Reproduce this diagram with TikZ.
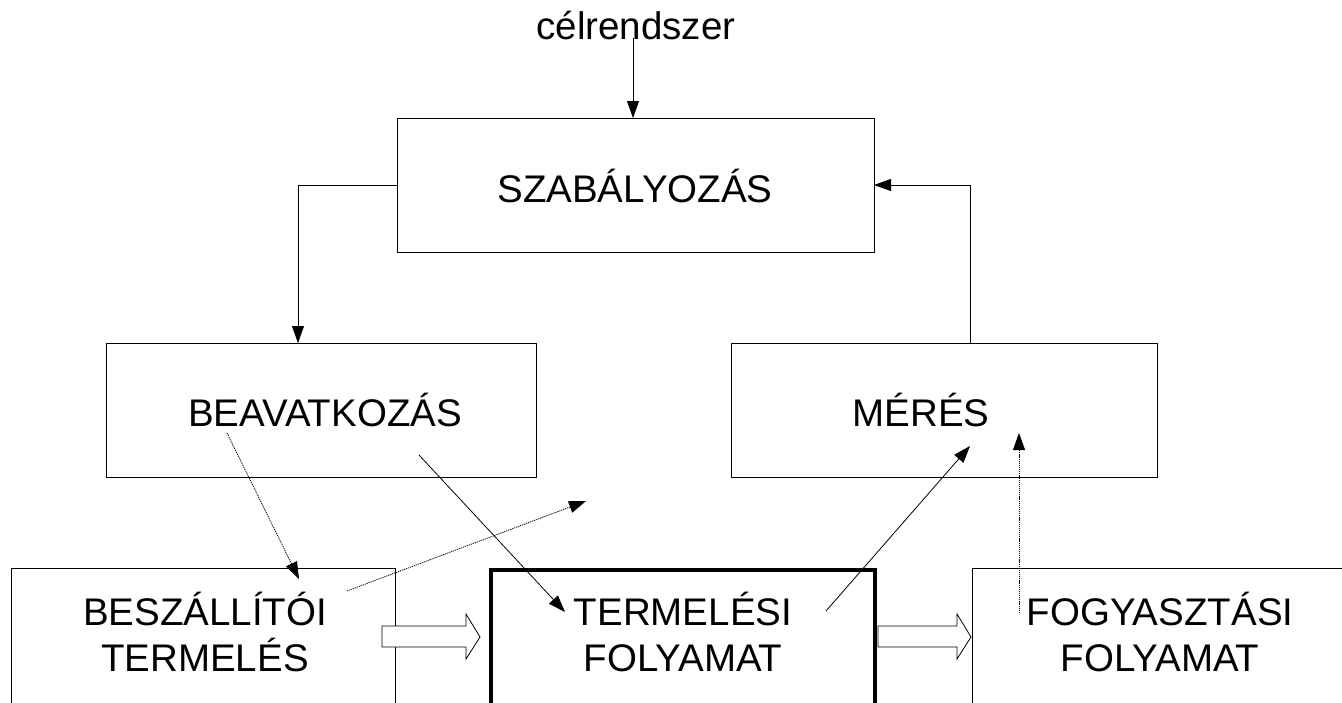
\documentclass[tikz,border=0pt]{standalone}
\usepackage{fontspec}
\setmainfont{Liberation Sans}
\usetikzlibrary{arrows.meta,calc}
\begin{document}
\begin{tikzpicture}[x=1pt,y=-1pt,
  box/.style={draw,line width=0.9pt,inner sep=0pt,outer sep=0pt},
  thickbox/.style={box,line width=3.6pt},
  lbl/.style={font=\fontsize{38.5}{46}\selectfont,align=center,inner sep=0pt},
  arr/.style={-{Triangle[length=17pt,width=12pt]},line width=0.8pt},
  dotarr/.style={arr,dash pattern=on 1.2pt off 0.9pt},
  hollow/.style={draw,fill=white,line width=0.8pt,line join=miter}]
\useasboundingbox (0,0) rectangle (1342,702);
\clip (0,0) rectangle (1342,702);
% boxes
\node[box,minimum width=477pt,minimum height=134pt] (szab) at (635.5,185) {};
\node[box,minimum width=430pt,minimum height=134pt] (beav) at (321,410) {};
\node[box,minimum width=426pt,minimum height=134pt] (meres) at (944,410) {};
\node[box,minimum width=384pt,minimum height=192pt] (besz) at (203,664) {};
\node[thickbox,minimum width=384pt,minimum height=190pt] (term) at (683,665) {};
\node[box,minimum width=428pt,minimum height=192pt] (fogy) at (1186,664) {};
% texts
\node[lbl] (tcel) at (636,26) {célrendszer};
\node[lbl] (tszab) at (635,186) {SZABÁLYOZÁS};
\node[lbl] (tbeav) at (325,410) {BEAVATKOZÁS};
\node[lbl] (tmeres) at (921,410) {MÉRÉS};
\node[lbl] (tbesz) at (205,632) {BESZÁLLÍTÓI\\TERMELÉS};
\node[lbl] (tterm) at (683,632) {TERMELÉSI\\FOLYAMAT};
\node[lbl] (tfogy) at (1160,632) {FOGYASZTÁSI\\FOLYAMAT};
% hollow arrows
\draw[hollow] (382,626) -- (466,626) -- (466,614) -- (480,637) -- (466,659) -- (466,647) -- (382,647) -- cycle;
\draw[hollow] (878,626) -- (957,626) -- (957,614) -- (971,637) -- (957,659) -- (957,647) -- (878,647) -- cycle;
% connectors
\coordinate (celfoot) at (633,38);
\draw[arr] (celfoot) -- (celfoot |- szab.north);
\draw[arr] (szab.west) -| ($(beav.north west)+(192,0)$);
\draw[arr] ($(meres.north west)+(239,0)$) |- (szab.east);
\coordinate (d1s) at (227,433);
\coordinate (d1e) at (299,579);
\draw[dotarr] (d1s) -- (d1e);
\coordinate (d2s) at (347,591);
\coordinate (d2e) at (586,501);
\draw[dotarr] (d2s) -- (d2e);
\coordinate (s1s) at (419,455);
\coordinate (s1e) at (565,612);
\draw[arr] (s1s) -- (s1e);
\coordinate (s2s) at (826,611);
\coordinate (s2e) at (970,446);
\draw[arr] (s2s) -- (s2e);
\coordinate (d3s) at (1019,613);
\coordinate (d3e) at (1019,433);
\draw[dotarr] (d3s) -- (d3e);
\end{tikzpicture}
\end{document}
